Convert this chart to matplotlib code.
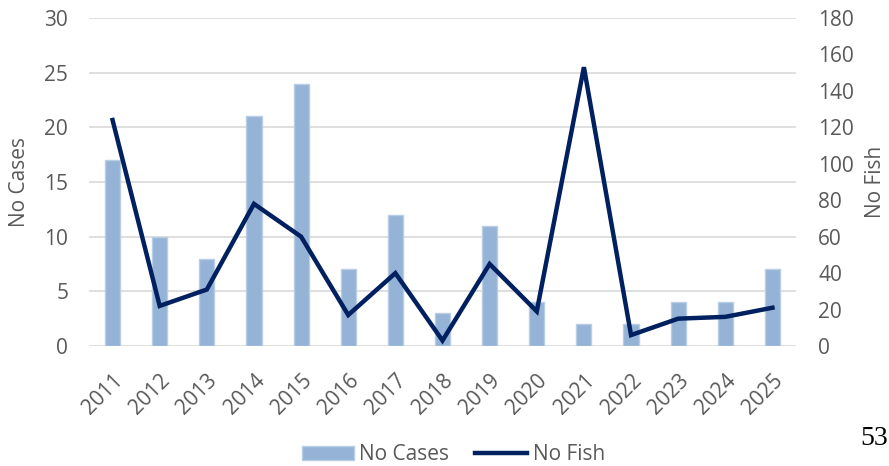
import matplotlib
matplotlib.use("Agg")
import matplotlib.pyplot as plt
from matplotlib.patches import Patch
from matplotlib.lines import Line2D

years = ["2011", "2012", "2013", "2014", "2015", "2016", "2017", "2018",
         "2019", "2020", "2021", "2022", "2023", "2024", "2025"]
no_cases = [17, 10, 8, 21, 24, 7, 12, 3, 11, 4, 2, 2, 4, 4, 7]
no_fish = [124, 22, 31, 78, 60, 17, 40, 3, 45, 19, 153, 6, 15, 16, 21]

plt.rcParams['font.family'] = ['Open Sans', 'DejaVu Sans']
gray = '#595959'

fig = plt.figure(figsize=(8.89, 4.66), dpi=100)
ax = fig.add_axes([0.1001, 0.2575, 0.7953, 0.7039])
ax2 = ax.twinx()

x = list(range(len(years)))
ax.bar(x, no_cases, width=0.32, color='#95B3D7', edgecolor='#B9CDE5', linewidth=1, zorder=2)
ax.set_xlim(-0.5, len(years) - 0.5)
ax.set_ylim(0, 30)
ax.set_yticks(range(0, 31, 5))
ax.grid(axis='y', color='#D9D9D9', linewidth=1.2, zorder=0)
ax.set_axisbelow(True)

ax2.plot(x, no_fish, color='#002060', linewidth=3.2, solid_joinstyle='miter', zorder=3)
ax2.set_ylim(0, 180)
ax2.set_yticks(range(0, 181, 20))

for a in (ax, ax2):
    for s in a.spines.values():
        s.set_visible(False)
    a.tick_params(length=0, labelsize=15, labelcolor=gray)

ax.set_xticks(x)
ax.set_xticklabels(years, rotation=45, ha='right', va='top', rotation_mode='anchor')
ax.tick_params(axis='x', pad=17)
ax.tick_params(axis='y', pad=15)
ax2.tick_params(axis='y', pad=16)

ax.set_ylabel('No Cases', fontsize=15, color=gray, labelpad=10)
ax2.set_ylabel('No Fish', fontsize=15, color=gray, labelpad=8)

handles = [Patch(facecolor='#95B3D7', edgecolor='#B9CDE5'),
           Line2D([0], [0], color='#002060', linewidth=3.2)]
fig.legend(handles, ['No Cases', 'No Fish'], loc='center', bbox_to_anchor=(0.510, 0.024),
           ncol=2, frameon=False, fontsize=15, labelcolor=gray,
           handlelength=2.5, handletextpad=0.25, columnspacing=1.25)

fig.text(0.968, 0.058, '53', fontsize=20, family='Liberation Serif', color='black', ha='left', va='center')

fig.savefig('out.png', dpi=100)
